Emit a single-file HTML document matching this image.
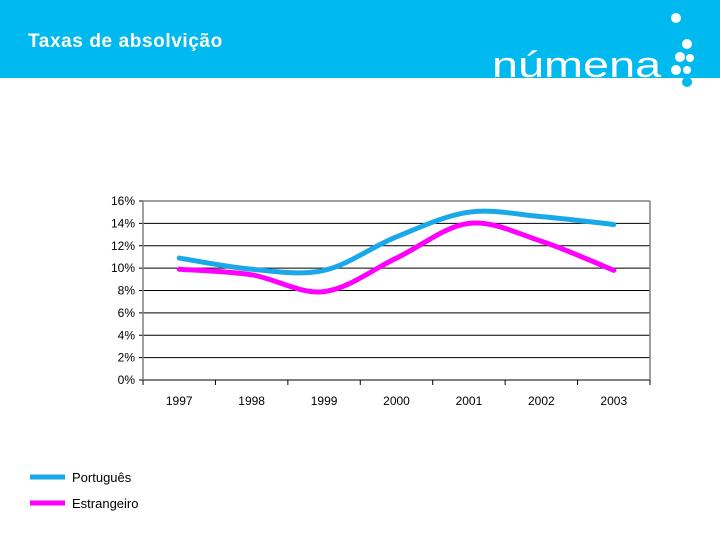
<!DOCTYPE html>
<html><head><meta charset="utf-8"><style>
body{margin:0;width:720px;height:540px;background:#fff;overflow:hidden;font-family:"Liberation Sans",sans-serif}
</style></head><body>
<svg width="720" height="540" xmlns="http://www.w3.org/2000/svg">
<rect x="0" y="0" width="720" height="78" fill="#00B9EF"/>
<text x="28" y="47" font-size="19" font-weight="bold" letter-spacing="0.6" fill="#fff" font-family="Liberation Sans, sans-serif">Taxas de absolvição</text>
<g>
<text x="0" y="0" font-size="36" fill="#fff" transform="translate(492,77) scale(1.3,1)" font-family="Liberation Sans, sans-serif">númena</text>
<circle cx="676" cy="18" r="5" fill="#fff"/>
<circle cx="687" cy="44" r="5" fill="#fff"/>
<circle cx="680" cy="57" r="5" fill="#fff"/>
<circle cx="690" cy="58" r="4" fill="#fff"/>
<circle cx="676" cy="70" r="5" fill="#fff"/>
<circle cx="687" cy="70" r="4" fill="#fff"/>
<circle cx="687" cy="82" r="5" fill="#00B9EF"/>
</g>
<g id="chart"></g>
<g>
<line x1="30" y1="477" x2="65" y2="477" stroke="#19A8E8" stroke-width="5"/>
<text x="72" y="482" font-size="13" fill="#000">Português</text>
<line x1="30" y1="503" x2="65" y2="503" stroke="#FF00FF" stroke-width="5"/>
<text x="72" y="508" font-size="13" fill="#000">Estrangeiro</text>
</g>
</svg>
<script>
const categories=["1997","1998","1999","2000","2001","2002","2003"];
const portugues=[10.9,9.9,9.8,12.8,15.0,14.6,13.9];
const estrangeiro=[9.9,9.4,7.9,10.9,14.0,12.4,9.8];
const yTicks=[0,2,4,6,8,10,12,14,16];
const L=143,R=650,T=201,B=380,yMax=16;
const NS="http://www.w3.org/2000/svg";
const g=document.getElementById('chart');
const bw=(R-L)/categories.length;
const x=i=>L+bw*(i+0.5);
const y=v=>B-(v/yMax)*(B-T);
function mk(t,a){const e=document.createElementNS(NS,t);for(const k in a)e.setAttribute(k,a[k]);g.appendChild(e);return e;}
yTicks.forEach(t=>{
 const yy=y(t);
 const ln=mk('line',{x1:L-4,x2:R,y1:yy,y2:yy,stroke:'#000','stroke-width':1});
 
 
 const tx=mk('text',{x:L-8,y:yy+4,'font-size':12,'text-anchor':'end',fill:'#000'});
 tx.textContent=t+'%';
 
 
});
const ax=mk('line',{x1:L,x2:L,y1:T,y2:B,stroke:'#808080','stroke-width':1.5});


const ar=mk('line',{x1:R,x2:R,y1:T,y2:B,stroke:'#808080','stroke-width':1.5});


const at=mk('line',{x1:L,x2:R,y1:T,y2:T,stroke:'#808080','stroke-width':1.5});


for(let i=0;i<=categories.length;i++){
 const tk=mk('line',{x1:L+bw*i,x2:L+bw*i,y1:B,y2:B+5,stroke:'#000'});
 
 
}
categories.forEach((c,i)=>{
 const t=mk('text',{x:x(i),y:B+25,'font-size':12,'text-anchor':'middle',fill:'#000'});
 t.textContent=c;
 
 
});
function smooth(vals){
 const p=vals.map((v,i)=>[x(i),y(v)]);
 let d='M'+p[0][0]+','+p[0][1];
 const k=1/6;
 for(let i=0;i<p.length-1;i++){
  const p0=p[Math.max(0,i-1)],p1=p[i],p2=p[i+1],p3=p[Math.min(p.length-1,i+2)];
  const c1=[p1[0]+(p2[0]-p0[0])*k,p1[1]+(p2[1]-p0[1])*k];
  const c2=[p2[0]-(p3[0]-p1[0])*k,p2[1]-(p3[1]-p1[1])*k];
  d+=' C'+c1+' '+c2+' '+p2;
 }
 return d;
}
const s1=mk('path',{d:smooth(portugues),fill:'none',stroke:'#19A8E8','stroke-width':5,'stroke-linecap':'round'});


const s2=mk('path',{d:smooth(estrangeiro),fill:'none',stroke:'#FF00FF','stroke-width':5,'stroke-linecap':'round'});


</script>
</body></html>
